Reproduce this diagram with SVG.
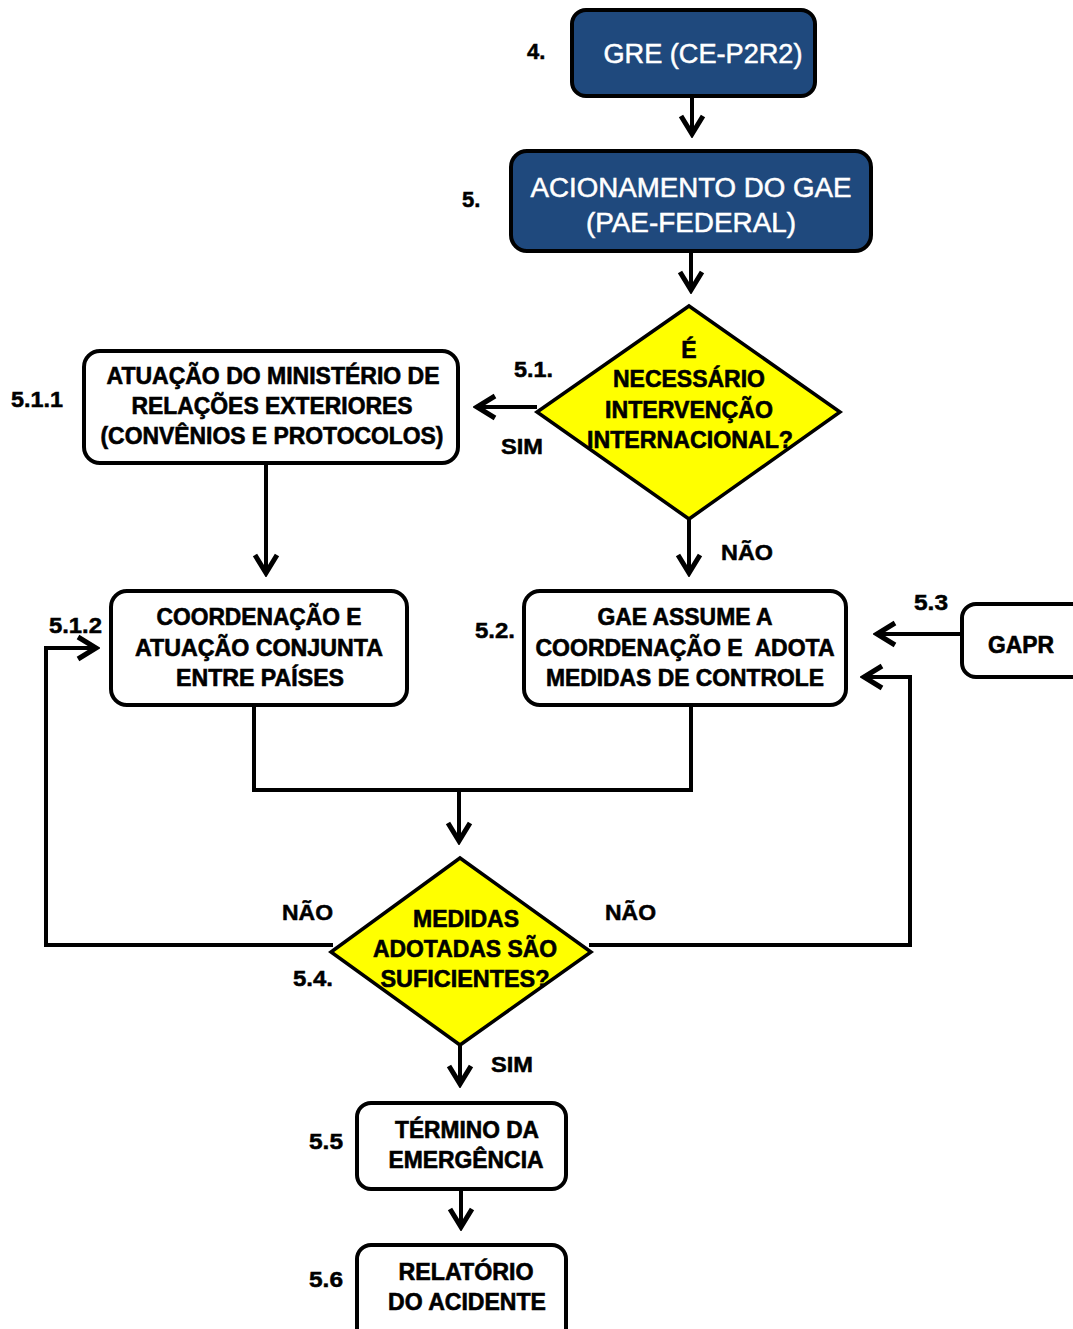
<svg xmlns="http://www.w3.org/2000/svg" width="1073" height="1329" viewBox="0 0 1073 1329">
<defs>
<marker id="arr" markerUnits="userSpaceOnUse" viewBox="-22 -14 26 28" refX="0" refY="0" markerWidth="26" markerHeight="28" orient="auto">
<path d="M-18,-11 L0,0 L-18,11" fill="none" stroke="#000" stroke-width="5"/>
</marker>
</defs>
<style>
.box{fill:#fff;stroke:#000;stroke-width:4}
.dark{fill:#1F497D;stroke:#000;stroke-width:4}
.dia{fill:#FFFF00;stroke:#000;stroke-width:3.5}
.wt{font-family:"Liberation Sans",Arial,sans-serif;font-size:27px;fill:#fff;stroke:#fff;stroke-width:0.5;text-anchor:middle}
.bt{font-family:"Liberation Sans",Arial,sans-serif;font-size:23px;font-weight:bold;fill:#000;stroke:#000;stroke-width:0.6;text-anchor:middle}
.lb{font-family:"Liberation Sans",Arial,sans-serif;font-size:22px;font-weight:bold;fill:#000;stroke:#000;stroke-width:0.5}
.ln{fill:none;stroke:#000;stroke-width:4}
</style>
<rect width="1073" height="1329" fill="#fff"/>
<g id="connectors">
<path class="ln" d="M692,96 V134" marker-end="url(#arr)"/>
<path class="ln" d="M691,251 V290" marker-end="url(#arr)"/>
<path class="ln" d="M537,407 H477" marker-end="url(#arr)"/>
<path class="ln" d="M266,463 V573" marker-end="url(#arr)"/>
<path class="ln" d="M689,519 V573" marker-end="url(#arr)"/>
<path class="ln" d="M962,634 H877" marker-end="url(#arr)"/>
<path class="ln" d="M254,705 V790 H691 V705"/>
<path class="ln" d="M459,790 V841" marker-end="url(#arr)"/>
<path class="ln" d="M333,945 H46 V648 H96" marker-end="url(#arr)"/>
<path class="ln" d="M589,945 H910 V677 H864" marker-end="url(#arr)"/>
<path class="ln" d="M460,1044 V1084" marker-end="url(#arr)"/>
<path class="ln" d="M461,1189 V1227" marker-end="url(#arr)"/>
</g>
<g id="n4">
<rect class="dark" x="572" y="10" width="243" height="86" rx="14"/>
<text class="wt" x="703" y="63" textLength="199" lengthAdjust="spacingAndGlyphs">GRE (CE-P2R2)</text>
<text class="lb" x="527" y="59">4.</text>
</g>
<g id="n5">
<rect class="dark" x="511" y="151" width="360" height="100" rx="16"/>
<text class="wt" x="691" y="197" textLength="321" lengthAdjust="spacingAndGlyphs">ACIONAMENTO DO GAE</text>
<text class="wt" x="691" y="232" textLength="210" lengthAdjust="spacingAndGlyphs">(PAE-FEDERAL)</text>
<text class="lb" x="462" y="207">5.</text>
</g>
<g id="n5_1">
<polygon class="dia" points="689,306 840,412 689,519 537,412"/>
<text class="bt" x="689" y="358">É</text>
<text class="bt" x="689" y="387" textLength="152" lengthAdjust="spacingAndGlyphs">NECESSÁRIO</text>
<text class="bt" x="689" y="418" textLength="168" lengthAdjust="spacingAndGlyphs">INTERVENÇÃO</text>
<text class="bt" x="690" y="448" textLength="206" lengthAdjust="spacingAndGlyphs">INTERNACIONAL?</text>
<text class="lb" x="514" y="377" textLength="39" lengthAdjust="spacingAndGlyphs">5.1.</text>
<text class="lb" x="501" y="454" textLength="42" lengthAdjust="spacingAndGlyphs">SIM</text>
<text class="lb" x="721" y="560" textLength="52" lengthAdjust="spacingAndGlyphs">NÃO</text>
</g>
<g id="n5_1_1">
<rect class="box" x="84" y="351" width="374" height="112" rx="16"/>
<text class="bt" x="273" y="384" textLength="333" lengthAdjust="spacingAndGlyphs">ATUAÇÃO DO MINISTÉRIO DE</text>
<text class="bt" x="272" y="414" textLength="281" lengthAdjust="spacingAndGlyphs">RELAÇÕES EXTERIORES</text>
<text class="bt" x="272" y="444" textLength="343" lengthAdjust="spacingAndGlyphs">(CONVÊNIOS E PROTOCOLOS)</text>
<text class="lb" x="11" y="407" textLength="52" lengthAdjust="spacingAndGlyphs">5.1.1</text>
</g>
<g id="n5_1_2">
<rect class="box" x="111" y="591" width="296" height="114" rx="16"/>
<text class="bt" x="259" y="625" textLength="205" lengthAdjust="spacingAndGlyphs">COORDENAÇÃO E</text>
<text class="bt" x="259" y="656" textLength="248" lengthAdjust="spacingAndGlyphs">ATUAÇÃO CONJUNTA</text>
<text class="bt" x="260" y="686" textLength="168" lengthAdjust="spacingAndGlyphs">ENTRE PAÍSES</text>
<text class="lb" x="49" y="633" textLength="53" lengthAdjust="spacingAndGlyphs">5.1.2</text>
</g>
<g id="n5_2">
<rect class="box" x="524" y="591" width="322" height="114" rx="16"/>
<text class="bt" x="685" y="625" textLength="175" lengthAdjust="spacingAndGlyphs">GAE ASSUME A</text>
<text class="bt" x="685" y="656" textLength="299" lengthAdjust="spacingAndGlyphs" xml:space="preserve">COORDENAÇÃO E  ADOTA</text>
<text class="bt" x="685" y="686" textLength="278" lengthAdjust="spacingAndGlyphs">MEDIDAS DE CONTROLE</text>
<text class="lb" x="475" y="638" textLength="40" lengthAdjust="spacingAndGlyphs">5.2.</text>
</g>
<g id="n5_3">
<rect class="box" x="962" y="604" width="130" height="73" rx="14"/>
<text class="bt" x="1021" y="653" textLength="66" lengthAdjust="spacingAndGlyphs">GAPR</text>
<text class="lb" x="914" y="610" textLength="34" lengthAdjust="spacingAndGlyphs">5.3</text>
</g>
<g id="n5_4">
<polygon class="dia" points="460,858 591,952 460,1045 331,952"/>
<text class="bt" x="466" y="927" textLength="106" lengthAdjust="spacingAndGlyphs">MEDIDAS</text>
<text class="bt" x="465" y="957" textLength="184" lengthAdjust="spacingAndGlyphs">ADOTADAS SÃO</text>
<text class="bt" x="465" y="987" textLength="169" lengthAdjust="spacingAndGlyphs">SUFICIENTES?</text>
<text class="lb" x="282" y="920" textLength="51" lengthAdjust="spacingAndGlyphs">NÃO</text>
<text class="lb" x="605" y="920" textLength="51" lengthAdjust="spacingAndGlyphs">NÃO</text>
<text class="lb" x="293" y="986" textLength="40" lengthAdjust="spacingAndGlyphs">5.4.</text>
<text class="lb" x="491" y="1072" textLength="42" lengthAdjust="spacingAndGlyphs">SIM</text>
</g>
<g id="n5_5">
<rect class="box" x="357" y="1103" width="209" height="86" rx="14"/>
<text class="bt" x="467" y="1138" textLength="144" lengthAdjust="spacingAndGlyphs">TÉRMINO DA</text>
<text class="bt" x="466" y="1168" textLength="155" lengthAdjust="spacingAndGlyphs">EMERGÊNCIA</text>
<text class="lb" x="309" y="1149" textLength="34" lengthAdjust="spacingAndGlyphs">5.5</text>
</g>
<g id="n5_6">
<rect class="box" x="357" y="1245" width="209" height="100" rx="14"/>
<text class="bt" x="466" y="1280" textLength="135" lengthAdjust="spacingAndGlyphs">RELATÓRIO</text>
<text class="bt" x="467" y="1310" textLength="158" lengthAdjust="spacingAndGlyphs">DO ACIDENTE</text>
<text class="lb" x="309" y="1287" textLength="34" lengthAdjust="spacingAndGlyphs">5.6</text>
</g>
</svg>
